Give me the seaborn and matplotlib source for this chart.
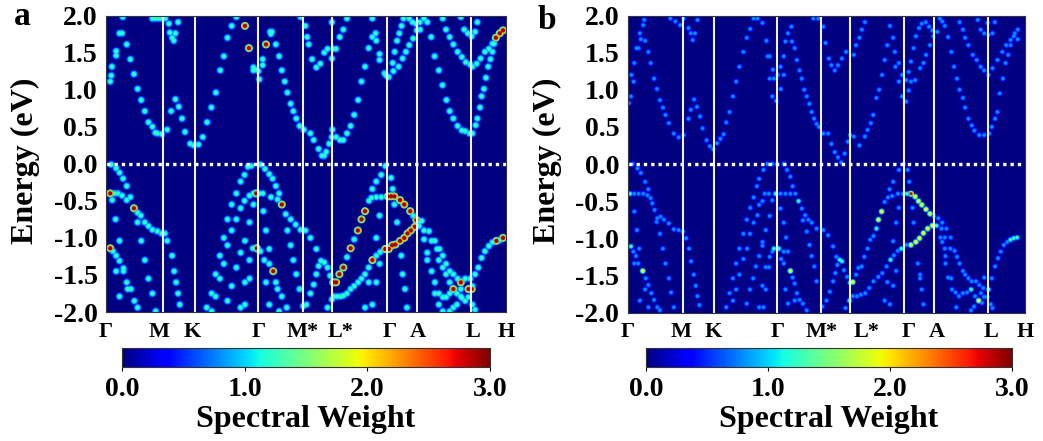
import numpy as np
import pandas as pd
import seaborn as sns
import matplotlib.pyplot as plt
from matplotlib.cm import ScalarMappable
from matplotlib.colors import Normalize

sns.set_style("white")
plt.rcParams["font.family"] = ["Liberation Serif", "DejaVu Serif"]
plt.rcParams["font.weight"] = "bold"
plt.rcParams["axes.unicode_minus"] = False
plt.rcParams["text.color"] = "black"
plt.rcParams["axes.labelcolor"] = "black"
plt.rcParams["xtick.color"] = "black"
plt.rcParams["ytick.color"] = "black"

W, H = 1043, 441

y_ticks = [-2.0, -1.5, -1.0, -0.5, 0.0, 0.5, 1.0, 1.5, 2.0]
path_labels = ["Γ", "M", "K", "Γ", "M*", "L*", "Γ", "A", "L", "H"]
cbar_ticks = [0.0, 1.0, 2.0, 3.0]

# path position of the white lines and of the labels under each panel
a_lines = [55, 86.7, 150.7, 196.7, 226.3, 281.3, 311.7, 366.7]
a_label_k = [-3, 51, 84, 152, 196, 234, 284, 313, 369, 402]
b_lines = [55, 86.3, 150, 195.5, 224.6, 279.3, 309.6, 364.3]
b_label_k = [-1, 53, 86, 151, 196, 241, 284, 313, 367, 402]

# panel a, (k, energy)
a_cond = [
    (14, 1.98), (10.7, 1.76), (13.3, 1.76), (18, 1.61), (21.7, 1.41), (25.3, 1.21), (29, 1.01), (32.7, 0.86),
    (36.3, 0.71), (40, 0.56), (44, 0.50), (47, 0.42), (49, 0.41), (53.3, 0.40), (59, 0.46), (63, 0.71), (67.3, 0.87),
    (70.7, 0.77), (74, 0.61), (77, 0.43), (82.3, 0.27), (85.7, 0.25), (90.7, 0.26), (95, 0.36), (99.3, 0.56),
    (103.7, 0.76), (108.3, 0.96), (112.7, 1.26), (116.3, 1.45), (120, 1.70), (124.3, 1.86), (129, 1.98),
    (7.3, 1.52), (7.3, 1.46), (3, 1.31), (2.3, 1.19), (1.3, 1.11),
    (44, 1.96), (47, 1.96), (50, 1.96), (53, 1.96), (57, 1.96), (60.7, 1.89), (61.7, 1.77), (67.3, 1.76), (64, 1.70),
    (65.7, 1.66), (70, 1.91),
    (163.3, 1.78), (165, 1.78), (164, 1.75), (169, 1.61), (172.3, 1.45), (175, 1.26), (178, 1.11), (180.7, 0.96),
    (184, 0.81), (186.7, 0.71), (189.7, 0.61), (193, 0.51), (197.3, 0.46), (204, 0.41), (207.3, 0.32), (212.3, 0.20),
    (215.7, 0.11), (218, 0.11), (220, 0.16), (223, 0.27), (226.3, 0.46), (225.7, 0.36), (230, 0.36), (234, 0.32),
    (237.3, 0.32), (241, 0.41), (244.7, 0.51), (248.3, 0.66), (252.3, 0.86), (255.7, 1.11), (259.3, 1.31), (263, 1.56),
    (266.7, 1.96), (233.7, 1.71), (237.3, 1.81), (241, 1.96),
    (155.7, 1.41), (155.7, 1.33), (146.3, 1.30), (146.3, 1.26), (149, 1.27), (151.3, 1.25), (152.3, 1.14),
    (194, 1.98), (199, 1.86), (200.7, 1.71), (202.3, 1.61), (205.7, 1.41), (210, 1.30), (214, 1.35), (218, 1.50),
    (221.3, 1.55), (230, 1.55), (227.3, 1.55), (225.7, 1.91), (225.7, 1.42),
    (266.7, 1.71), (270, 1.76), (270.7, 1.66), (274, 1.40), (274, 1.48), (279, 1.22), (280.7, 1.19), (283.3, 1.17),
    (288, 1.25), (293.3, 1.31), (297.3, 1.42), (300.7, 1.51), (304, 1.60), (308, 1.69), (311.7, 1.80), (314.7, 1.91),
    (315, 1.81), (319, 1.96), (322.3, 1.91),
    (287.3, 1.36), (289.3, 1.51), (291.7, 1.66), (294, 1.76), (296.3, 1.86), (298.3, 1.96), (304, 1.96), (307.3, 1.91),
    (310.7, 1.89),
    (326.3, 1.71), (329.7, 1.45), (334, 1.26), (337.7, 1.06), (341.7, 0.86), (345, 0.71), (348.7, 0.61), (353, 0.51),
    (357.3, 0.45), (360.7, 0.44), (365, 0.41), (368, 0.41), (371.3, 0.52), (373, 0.61), (375.7, 0.76), (377.3, 0.91),
    (379.7, 1.01), (381.7, 1.16), (384, 1.31), (386.3, 1.41), (388.3, 1.51), (390, 1.62),
    (338, 1.96), (341.3, 1.81), (345, 1.71), (348.7, 1.61), (353, 1.51), (357.3, 1.44), (361.3, 1.37), (365.7, 1.34),
    (368, 1.31), (372.3, 1.35), (376.3, 1.42), (380.7, 1.51), (384.7, 1.55), (388.3, 1.62),
    (356.3, 1.98), (359.7, 1.81), (363.3, 1.76), (367.3, 1.72), (370.7, 1.78), (373, 1.91),
]
a_val = [
    (2.3, -0.01), (7.3, -0.06), (10.7, -0.12), (14.3, -0.20), (18, -0.30),
    (5.7, -0.40), (9, -0.40), (13.3, -0.43), (18, -0.49), (21.7, -0.45), (3.3, -0.49), (29, -0.66), (32.3, -0.70),
    (29, -0.79), (36.3, -0.79), (40, -0.84), (44, -0.89), (49, -0.91), (53.3, -0.94), (56.7, -0.94), (59, -1.04),
    (64, -1.24), (66, -1.45), (68, -1.60), (70, -1.75), (71.7, -1.90),
    (6.7, -0.75), (10.7, -1.04), (32.7, -1.04), (4, -1.18), (7.3, -1.24), (10.7, -1.31), (14.7, -1.41), (14.7, -1.45),
    (7.3, -1.45), (36.3, -1.30), (18, -1.60), (40, -1.55), (19, -1.69), (22.3, -1.69), (10.7, -1.79), (25.7, -1.85),
    (44, -1.75), (29, -1.94), (47.3, -1.99),
    (140.7, -0.04), (144, -0.03), (137.3, -0.15), (133.3, -0.24), (129, -0.40), (124.3, -0.55), (133.3, -0.60),
    (137.3, -0.50), (142.3, -0.43), (146.3, -0.40), (146.3, -0.55), (120, -0.75), (129, -0.75), (142.3, -0.79),
    (124.3, -0.90), (116.3, -1.0), (120, -1.10), (137.7, -1.04), (133.3, -1.20), (145.7, -1.14), (153.3, -1.18),
    (151, -1.16), (142.3, -1.30), (112.3, -1.24), (116.3, -1.35), (129, -1.40), (108, -1.49), (112.3, -1.55),
    (142.3, -1.55), (137.7, -1.60), (124.3, -1.65), (104, -1.75), (108, -1.79), (120, -1.85), (99, -1.94), (104, -1.99),
    (133.3, -1.94), (137.7, -1.90),
    (153.3, -0.01), (158, -0.07), (162.3, -0.14), (165.7, -0.20), (169, -0.30), (172.3, -0.40), (155.7, -0.40),
    (152, -0.40), (164, -0.45), (170.7, -0.48), (179, -0.68), (184, -0.75), (189, -0.82), (194, -0.89), (199, -0.90),
    (204, -1.0), (210, -1.15), (214.7, -1.31), (218, -1.33), (221.3, -1.40), (224, -1.51), (226.7, -1.60),
    (156.3, -0.64), (159, -0.90), (180.7, -0.90), (184, -1.10), (162.3, -1.15), (186.7, -1.30), (157.3, -1.30),
    (162.3, -1.35), (189.7, -1.49), (159, -1.60), (169, -1.60), (170.7, -1.69), (175, -1.79), (193, -1.69),
    (180, -1.94), (162.3, -1.90), (172.3, -1.99),
    (212.3, -1.38), (210, -1.49), (207.3, -1.63), (204, -1.75), (200, -1.90), (196.7, -1.92),
    (241, -1.26), (248.3, -1.02), (263.3, -0.50), (265.7, -0.46), (270.7, -0.45), (275.7, -0.45), (308, -0.70),
    (316.7, -0.77),
    (221.3, -1.94), (225.7, -1.83), (228, -1.79), (231.3, -1.79), (234.7, -1.79), (237.3, -1.78), (241, -1.75),
    (244.7, -1.69), (248.3, -1.65), (252.3, -1.60), (255.7, -1.55), (259.3, -1.49), (263, -1.40), (270.7, -1.24),
    (274.7, -1.19), (314, -0.84), (319, -0.90), (324, -0.91),
    (279.7, -0.03), (275.7, -0.15), (270.7, -0.24), (266.7, -0.34), (287.3, -0.34), (285.7, -0.19), (274, -0.70),
    (270.7, -1.0), (274, -1.35), (263, -1.60), (270.7, -1.60), (266.7, -1.90), (259.3, -1.94), (291.7, -0.79),
    (296, -1.24), (297.3, -1.49), (299.7, -1.69), (301.7, -1.94), (289, -0.55),
    (314.7, -0.78), (319, -1.02), (322.3, -1.20), (322.3, -1.30), (326.7, -1.04), (330, -1.04), (332.3, -1.15),
    (334.7, -1.15), (334, -1.30), (338, -1.24), (338, -1.40), (326.7, -1.45), (341.3, -1.35), (341.3, -1.49),
    (330, -1.60), (345, -1.45), (345, -1.60), (348.7, -1.49), (353, -1.55), (360.7, -1.55), (365.7, -1.55),
    (352.3, -1.75), (356.3, -1.79), (360.7, -1.85), (356.3, -1.69), (330, -1.75), (334, -1.75), (338, -1.80),
    (341.3, -1.80), (345, -1.75), (334, -1.90), (338, -1.99), (345, -1.99), (348.7, -1.94), (352.3, -1.90),
    (357.3, -1.81), (364, -1.80), (368, -1.90), (370.7, -1.97),
    (368, -1.65), (370.7, -1.49), (374, -1.40), (377.3, -1.27), (380.7, -1.18), (384.7, -1.11), (388.3, -1.06),
    (395.7, -1.03),
]
a_hot = [
    (137.7, 1.86), (141.7, 1.56), (159, 1.61), (391.7, 1.70), (395.7, 1.76), (399, 1.80),
    (1.3, -0.40), (25.3, -0.60), (1.3, -1.14), (149, -0.40), (149.7, -1.14), (175, -0.55), (166.3, -1.45),
    (230, -1.60), (227.3, -1.60), (233.3, -1.49), (237.3, -1.40), (244.7, -1.14), (252, -0.90), (255.7, -0.75),
    (259.3, -0.64), (282.3, -0.44), (285.7, -0.44), (289, -0.44), (294.7, -0.49), (299, -0.55), (305, -0.64),
    (311.3, -0.76), (266.7, -1.30), (279.7, -1.15), (283.3, -1.15), (286.7, -1.10), (290, -1.09), (294.7, -1.04),
    (299, -1.0), (302.3, -0.94), (305.7, -0.90), (309.7, -0.85), (356.3, -1.60), (348.7, -1.69), (364, -1.69),
    (367.3, -1.69), (392.3, -1.04), (399, -1.0),
]

# panel b, (k, energy)
b_cond = [
    (14.7, 1.87), (11.3, 1.76), (16.7, 1.66), (12.3, 1.68), (20, 1.51), (22.3, 1.36), (25.7, 1.15), (28.7, 1.01),
    (31.7, 0.86), (34.7, 0.76), (37.3, 0.66), (40.7, 0.55), (45.7, 0.41), (50.7, 0.36), (55.7, 0.39), (60.7, 0.61),
    (63, 0.73), (66.3, 0.87), (69.3, 0.77), (72.3, 0.64), (75, 0.48), (79, 0.32), (82.3, 0.24), (85.7, 0.20),
    (89.7, 0.28), (93, 0.34), (96.3, 0.40), (99, 0.56), (102.3, 0.70), (105.7, 0.91), (109, 1.11), (112.3, 1.31),
    (116.3, 1.51), (119.7, 1.70), (123.3, 1.82), (126.7, 1.96),
    (10, 1.56), (8, 1.56), (5.7, 1.36), (2.7, 1.20), (5, 1.11), (2.3, 0.91), (0.3, 0.82), (15.7, 1.94),
    (42.3, 1.96), (47.3, 1.92), (52.3, 1.87), (55.7, 1.96), (60.7, 1.83), (63, 1.76), (65, 1.67), (67.3, 1.76),
    (69.7, 1.94),
    (130.7, 1.96), (135.7, 1.90), (139.7, 1.66), (143, 1.45), (141, 1.45), (146.3, 1.27), (143, 1.15), (147.3, 1.15),
    (145.7, 0.91), (149.7, 0.85), (154, 1.31), (151, 1.20), (157.3, 1.20), (154.3, 1.01), (157.3, 1.45),
    (159, 1.65), (161.6, 1.76), (165, 1.85), (165.6, 1.65), (168.3, 1.56), (170.6, 1.40), (173.3, 1.26), (175.6, 1.15),
    (178, 1.00), (180.6, 0.91), (183.3, 0.81), (185.6, 0.70), (188, 0.61), (190.6, 0.54), (193, 0.50), (197.3, 0.41),
    (202.3, 0.41), (205.6, 0.27), (209, 0.16), (212.3, 0.09), (215.6, 0.02), (219, 0.14), (222.3, 0.30), (224.6, 0.39),
    (228.3, 0.37), (234, 0.25), (239.6, 0.37), (242.3, 0.46), (245.6, 0.55), (248, 0.66), (251.3, 0.89), (254, 1.00),
    (257, 1.20), (259.6, 1.40), (262.3, 1.60), (265, 1.86), (268.3, 1.70),
    (187.3, 1.96), (192.3, 1.96), (197.3, 1.85), (199.6, 1.63), (203, 1.42), (205.6, 1.33), (209, 1.26), (212.3, 1.33),
    (216.3, 1.42), (220.6, 1.51), (228.3, 1.47), (230.6, 1.60), (234, 1.70), (236.6, 1.81), (239.6, 1.91),
    (270, 1.51), (274, 1.36), (270.6, 1.31), (277.3, 1.20), (274, 1.11), (277.3, 0.91), (281.3, 0.84), (284, 0.99),
    (286.3, 1.11), (290.6, 1.13), (295.6, 1.29), (299, 1.36), (301.6, 1.47), (305.6, 1.60), (309, 1.72), (313, 1.78),
    (281.3, 1.13), (284, 1.24), (286.3, 1.38), (289, 1.56), (291.3, 1.72), (294.6, 1.83), (297.3, 1.89), (301.3, 1.91),
    (304.6, 1.85), (308, 1.80),
    (315.6, 1.96), (320.6, 1.86), (318, 1.92), (324, 1.71), (327.3, 1.51), (330, 1.31), (333, 1.15), (335.6, 1.00),
    (339, 0.89), (341.3, 0.76), (344.6, 0.61), (348, 0.52), (350.6, 0.45), (355.6, 0.39), (360.6, 0.39), (365.6, 0.41),
    (368.3, 0.50), (371.6, 0.61), (374, 0.70), (376.3, 0.95), (379.6, 1.15), (382.3, 1.36), (385, 1.47), (387.3, 1.60),
    (390.6, 1.72), (394.6, 1.81),
    (335.6, 1.91), (339, 1.81), (341.3, 1.70), (344.6, 1.60), (349, 1.47), (353, 1.40), (357, 1.31), (360.6, 1.26),
    (365, 1.20), (369, 1.29), (374, 1.40), (379, 1.51), (383, 1.60), (387.3, 1.67), (391.6, 1.76), (394.6, 1.68),
    (354, 1.94), (357, 1.81), (360.6, 1.76), (365, 1.74), (369, 1.76), (371.3, 1.91), (364, 1.90),
]
b_val = [
    (4, 0.0), (9, -0.06), (12.3, -0.12), (16.7, -0.24), (20, -0.34),
    (5.7, -0.40), (10, -0.40), (14.7, -0.40), (19, -0.42), (22.3, -0.46), (24, -0.53), (26.3, -0.62), (29, -0.73),
    (32.3, -0.71), (35.7, -0.75), (40.7, -0.80), (45.7, -0.88), (50.7, -0.89), (55, -0.91), (58.3, -1.0), (61.3, -1.14),
    (63.3, -1.31), (66, -1.49), (68, -1.64), (69.7, -1.78), (71.7, -1.90),
    (5.7, -0.64), (8.3, -0.89), (31.7, -0.94), (28.3, -0.78), (4.7, -1.18), (10.7, -1.14), (7.3, -1.24), (34.7, -1.14),
    (5.7, -1.34), (9.7, -1.34), (37.3, -1.34), (17.3, -1.54), (40.7, -1.54), (20, -1.63), (16.7, -1.69), (23, -1.74),
    (25.7, -1.83), (43, -1.73), (11.3, -1.84), (20, -1.93), (29, -1.93), (45.7, -1.93), (31.7, -1.97),
    (140.7, 0.0), (145.7, 0.0), (150.7, 0.0), (136.7, -0.08), (132.3, -0.2), (130, -0.3), (126.7, -0.45), (138, -0.40),
    (142.3, -0.40), (145.7, -0.49), (135.7, -0.5), (132.3, -0.55), (123.3, -0.59), (130.7, -0.69), (119.7, -0.75),
    (143, -0.70), (126.7, -0.79), (139, -0.89), (116.3, -0.94), (123, -0.94), (135.7, -1.05), (135.7, -1.10),
    (112.3, -1.14), (120, -1.14), (145.7, -1.18), (143, -1.25), (132.3, -1.24), (116.3, -1.28), (109, -1.34),
    (129, -1.38), (139, -1.39), (142.3, -1.39), (112.3, -1.49), (105.7, -1.54), (126.3, -1.54), (135.7, -1.64),
    (109, -1.69), (123, -1.69), (139, -1.69), (102.3, -1.74), (105.7, -1.84), (119.7, -1.88), (99, -1.93), (132.3, -1.93),
    (136.7, -1.93),
    (157.3, 0.0), (160.6, -0.08), (164, -0.17), (166.3, -0.30), (169, -0.40), (154, -0.40), (159, -0.40), (164, -0.40),
    (175.6, -0.60), (179, -0.69), (182.3, -0.75), (185.6, -0.79), (190.6, -0.87), (197.3, -0.89), (202.3, -0.96),
    (207.3, -1.11), (210.6, -1.25), (218.3, -1.43), (221.6, -1.52),
    (154, -0.60), (157.3, -0.79), (176.6, -0.76), (180.6, -0.91), (159.6, -0.99), (183.3, -1.09), (157.3, -1.18),
    (161.6, -1.18), (185.6, -1.24), (154.6, -1.28), (157.3, -1.34), (188.3, -1.38), (166.3, -1.53), (168.3, -1.61),
    (190.6, -1.58), (159, -1.69), (170.6, -1.74), (173.3, -1.83), (168.3, -1.84), (161.6, -1.88), (176.6, -1.88),
    (180.6, -1.97),
    (211.6, -1.36), (209.6, -1.47), (207.3, -1.58), (204, -1.72), (200.6, -1.84), (196.3, -1.92),
    (230.6, -1.49), (233, -1.40), (236.3, -1.38), (239, -1.25), (242.3, -1.14), (245, -1.02), (248.3, -0.97),
    (259.6, -0.51), (263, -0.45), (267.3, -0.43), (273, -0.40), (278.3, -0.40), (309.6, -0.70), (314, -0.73),
    (318, -0.79), (322.3, -0.87),
    (220, -1.94), (227.3, -1.78), (231.6, -1.78), (235.6, -1.76), (240, -1.74), (244, -1.67), (248.3, -1.58),
    (253.3, -1.52), (257.3, -1.47), (261.6, -1.38), (269, -1.23), (273, -1.17), (281.6, -1.09), (317.3, -0.87),
    (279, 0.0), (274, -0.08), (268.3, -0.24), (264.6, -0.34), (283, -0.08), (284.6, -0.24), (274, -0.59), (271.3, -0.79),
    (268.3, -1.04), (271.3, -1.44), (262.3, -1.59), (268.3, -1.64), (259.6, -1.84), (265, -1.89), (288, -0.59),
    (289, -0.79), (293.3, -1.34), (295.6, -1.49), (295.6, -1.54), (299, -1.89), (297.3, -1.69),
    (316.3, -0.99), (320.6, -0.99), (326.6, -0.99), (318, -1.05), (320.6, -1.14), (326.3, -1.14), (330.6, -1.17),
    (321.3, -1.24), (333, -1.25), (321.3, -1.34), (335.6, -1.34), (339, -1.44), (324, -1.53), (327.3, -1.54),
    (341.3, -1.49), (344.6, -1.54), (348, -1.58), (352.3, -1.58), (355.6, -1.63), (359.6, -1.67), (360.6, -1.53),
    (343.3, -1.73), (339, -1.74), (335, -1.78), (331.6, -1.73), (328, -1.69), (332.3, -1.93), (351.3, -1.78),
    (357.3, -1.74), (360.6, -1.79), (350.3, -1.92), (347.3, -1.97), (358.3, -1.87), (364, -1.79), (367.3, -1.89),
    (369, -1.94),
    (368.3, -1.54), (371.6, -1.38), (374.6, -1.27), (377.3, -1.18), (380.6, -1.09), (384, -1.05),
]
b_mid = [
    (1.3, -0.40), (2.3, -1.11), (149, -0.40), (147.3, -1.14), (151.3, -1.14), (152.3, -1.14), (172.3, -0.50),
    (214, -1.29), (216.3, -1.31), (224, -1.84), (251.3, -0.87), (282.3, -0.40), (265.6, -1.29), (276.6, -1.14),
    (365, -1.69), (347.3, -1.69), (387.3, -1.02), (390.6, -1.0), (394, -0.99), (312.3, -0.83), (224.6, -1.60),
]
b_warm = [
    (14.3, -1.44), (164, -1.44), (227.3, -1.59), (253.3, -0.75), (256.6, -0.64), (290.6, -0.44), (294, -0.50),
    (297.3, -0.55), (301.6, -0.61), (305.6, -0.67), (286.3, -1.09), (291.3, -1.05), (295, -1.0), (299, -0.93),
    (303.3, -0.87), (308, -0.83), (355, -1.84),
]
b_red = [(286.3, -0.40)]


def make_table(groups):
    rows = []
    for points, weight in groups:
        for k, e in points:
            rows.append({"k": k, "energy": e, "weight": weight})
    return pd.DataFrame(rows)


def panel(rect, xmax, table, lines, label_k, letter, letter_xy, sizes):
    left, top, right, bottom = rect
    ax = fig.add_axes([left / W, 1 - bottom / H, (right - left) / W, (bottom - top) / H])
    ax.set_facecolor(plt.cm.jet(0.0))
    # three passes so each peak fades out like a broadened spectral line
    for scale, s in zip([0.42, 0.75, 1.0], sizes):
        d = table.assign(level=table["weight"] * scale)
        sns.scatterplot(data=d, x="k", y="energy", hue="level", hue_norm=(0, 3), palette=plt.cm.jet, s=s,
                        linewidth=0, legend=False, ax=ax)
    for x in lines:
        ax.axvline(x, color="white", lw=1.5, alpha=0.95)
    ax.axhline(0, color="white", lw=2.4, ls=(2, (1, 1.2)))
    ax.set_xlim(0, xmax)
    ax.set_ylim(-2, 2)
    ax.set_xlabel("")
    ax.set_ylabel("Energy (eV)", fontsize=23, fontweight="bold")
    ax.yaxis.set_label_coords(-66 / (right - left), 0.51)
    ax.set_yticks(y_ticks)
    ax.set_yticklabels([f"{v:.1f}" for v in y_ticks], fontsize=20, fontweight="bold")
    ax.set_xticks(label_k)
    ax.set_xticklabels(path_labels, fontsize=16, fontweight="bold")
    ax.tick_params(axis="y", length=0, pad=6)
    ax.tick_params(axis="x", length=0, pad=7)
    for sp in ax.spines.values():
        sp.set_color("#333344")
        sp.set_linewidth(0.8)
    fig.text(letter_xy[0] / W, 1 - letter_xy[1] / H, letter, fontsize=24, fontweight="bold", va="baseline")
    return ax


def colorbar(rect):
    left, top, right, bottom = rect
    cax = fig.add_axes([left / W, 1 - bottom / H, (right - left) / W, (bottom - top) / H])
    cb = fig.colorbar(ScalarMappable(Normalize(0, 3), plt.cm.jet), cax=cax, orientation="horizontal")
    cb.set_ticks(cbar_ticks)
    cb.set_ticklabels([f"{v:.1f}" for v in cbar_ticks])
    cb.ax.tick_params(length=3, width=0.8, pad=4, labelsize=20)
    cb.outline.set_linewidth(0.8)
    cb.outline.set_edgecolor("#333333")
    cb.set_label("Spectral Weight", fontsize=23, fontweight="bold", labelpad=2)


fig = plt.figure(figsize=(W / 100, H / 100), dpi=100)

table_a = make_table([(a_cond, 1.2), (a_val, 1.2), (a_hot, 2.9)])
table_b = make_table([(b_cond, 0.8), (b_val, 0.8), (b_mid, 1.2), (b_warm, 1.9), (b_red, 2.8)])

panel((106, 15.5, 506, 312), 400, table_a, a_lines, a_label_k, "a", (14, 25), (34, 20, 9))
panel((627.7, 15.5, 1025, 312.5), 397.3, table_b, b_lines, b_label_k, "b", (538, 29), (20, 10, 5))
colorbar((122, 348, 490, 367))
colorbar((646, 348, 1012, 367))

fig.savefig("out.png", dpi=100)
